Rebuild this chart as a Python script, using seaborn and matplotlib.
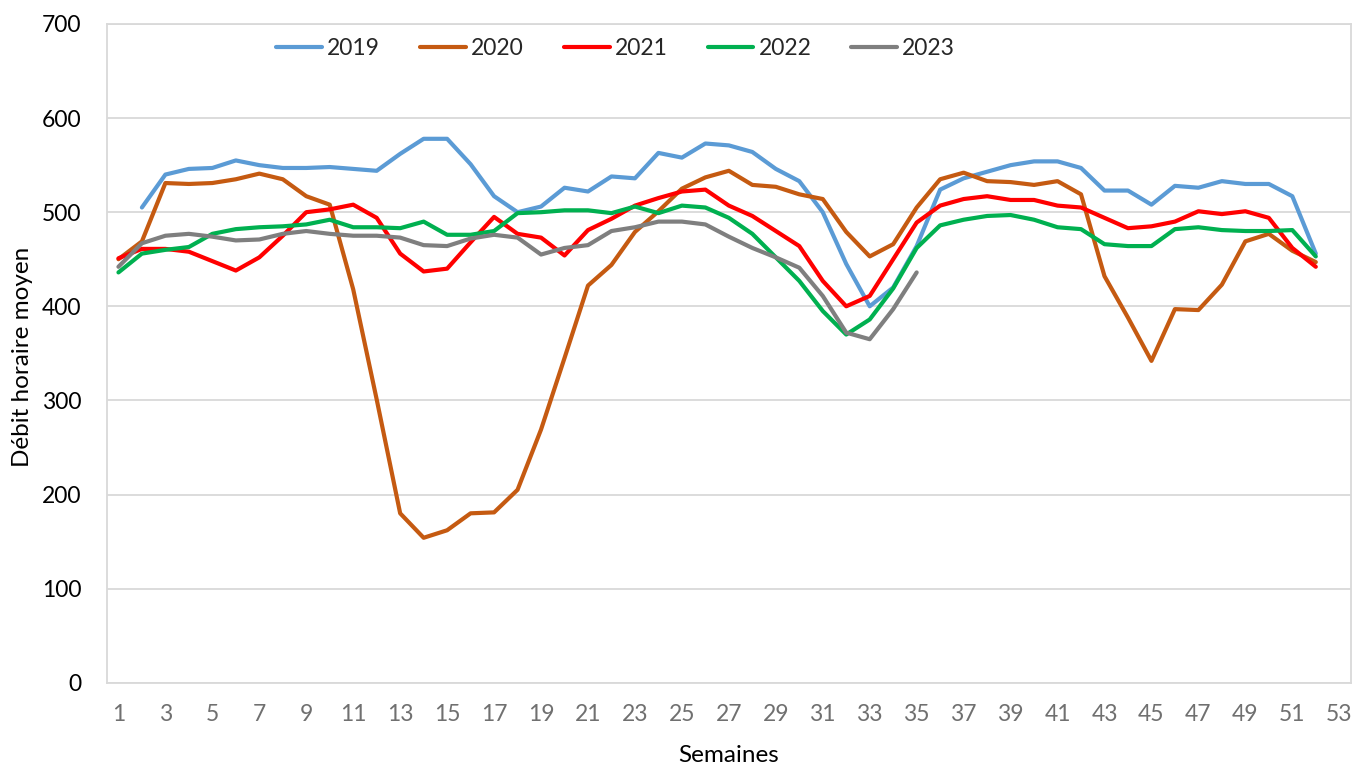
import matplotlib
matplotlib.use("Agg")
import matplotlib.pyplot as plt
import numpy as np
import pandas as pd
import seaborn as sns

# Weekly mean hourly traffic flow per year
weeks_2019 = list(range(2, 53))
flow_2019 = [505, 540, 546, 547, 555, 550, 547, 547, 548, 546, 544, 562, 578, 578,
             551, 517, 500, 506, 526, 522, 538, 536, 563, 558, 573, 571, 564, 546,
             533, 500, 445, 400, 420, 464, 524, 536, 543, 550, 554, 554, 547, 523,
             523, 508, 528, 526, 533, 530, 530, 517, 456]

weeks_2020 = list(range(1, 53))
flow_2020 = [450, 469, 531, 530, 531, 535, 541, 535, 517, 508, 418, 301, 180, 154,
             162, 180, 181, 205, 269, 345, 422, 444, 479, 501, 525, 537, 544, 529,
             527, 519, 514, 479, 453, 466, 505, 535, 542, 533, 532, 529, 533, 519,
             432, 388, 342, 397, 396, 423, 469, 477, 459, 447]

weeks_2021 = list(range(1, 53))
flow_2021 = [451, 461, 461, 458, 448, 438, 452, 475, 500, 503, 508, 494, 456, 437,
             440, 468, 495, 477, 473, 454, 481, 493, 507, 515, 522, 524, 507, 496,
             480, 464, 427, 400, 411, 450, 489, 507, 514, 517, 513, 513, 507, 505,
             494, 483, 485, 490, 501, 498, 501, 494, 462, 442]

weeks_2022 = list(range(1, 53))
flow_2022 = [436, 456, 460, 463, 477, 482, 484, 485, 487, 492, 484, 484, 483, 490,
             476, 476, 480, 499, 500, 502, 502, 499, 506, 499, 507, 505, 494, 477,
             452, 427, 395, 370, 386, 419, 462, 486, 492, 496, 497, 492, 484, 482,
             466, 464, 464, 482, 484, 481, 480, 480, 481, 453]

weeks_2023 = list(range(1, 36))
flow_2023 = [442, 467, 475, 477, 474, 470, 471, 477, 480, 477, 475, 475, 473, 465,
             464, 472, 476, 473, 455, 462, 465, 480, 484, 490, 490, 487, 474, 462,
             452, 441, 411, 372, 365, 397, 436]

years = ["2019", "2020", "2021", "2022", "2023"]
colors = {"2019": "#5B9BD5", "2020": "#C55A11", "2021": "#FF0000",
          "2022": "#00B050", "2023": "#7F7F7F"}

frames = []
for yr, wk, val in [("2019", weeks_2019, flow_2019), ("2020", weeks_2020, flow_2020),
                    ("2021", weeks_2021, flow_2021), ("2022", weeks_2022, flow_2022),
                    ("2023", weeks_2023, flow_2023)]:
    frames.append(pd.DataFrame({"Semaine": wk, "Débit": val, "Année": yr}))
df = pd.concat(frames, ignore_index=True)

sns.set_theme(style="white")
plt.rcParams["font.family"] = ["Lato", "DejaVu Sans"]

W, H = 1362, 770
fig = plt.figure(figsize=(W / 100, H / 100), dpi=100)
left, right, top, bottom = 106.7, 1351.0, 24.0, 682.7
ax = fig.add_axes([left / W, (H - bottom) / H, (right - left) / W, (bottom - top) / H])

sns.lineplot(data=df, x="Semaine", y="Débit", hue="Année", hue_order=years,
             palette=colors, linewidth=3.0, ax=ax, legend=False,
             solid_joinstyle="round", solid_capstyle="round")

grid_c = "#D9D9D9"
ax.set_xlim(0.5, 53.5)
ax.set_ylim(0, 700)
ax.set_yticks(np.arange(0, 701, 100))
ax.set_xticks(np.arange(1, 54, 2))
ax.set_xticks(np.arange(0.5, 53.6, 1), minor=True)
ax.yaxis.grid(True, color=grid_c, linewidth=1.3)
ax.set_axisbelow(True)
for s in ax.spines.values():
    s.set_color(grid_c)
    s.set_linewidth(1.3)

ax.tick_params(axis="y", length=0, pad=18, labelsize=16.5, labelcolor="black")
ax.tick_params(axis="x", which="major", length=0, pad=15, labelsize=16.5,
               labelcolor="#707070")
ax.tick_params(axis="x", which="minor", direction="in", length=5, width=1.2,
               color=grid_c)

ax.set_xlabel("Semaines", fontsize=17.5, color="black")
ax.set_ylabel("Débit horaire moyen", fontsize=17.5, color="black")
ax.xaxis.set_label_coords(0.5, -0.095)
ax.yaxis.set_label_coords(-0.059, 0.494)

handles = [plt.Line2D([], [], color=colors[y], linewidth=3.0, solid_capstyle="round")
           for y in years]
ax.legend(handles, years, loc="center", bbox_to_anchor=(0.409, 0.963), ncol=5,
          frameon=False, fontsize=16.5, handlelength=2.0, handletextpad=0.22,
          columnspacing=1.75)

fig.savefig("out.png", dpi=100)
